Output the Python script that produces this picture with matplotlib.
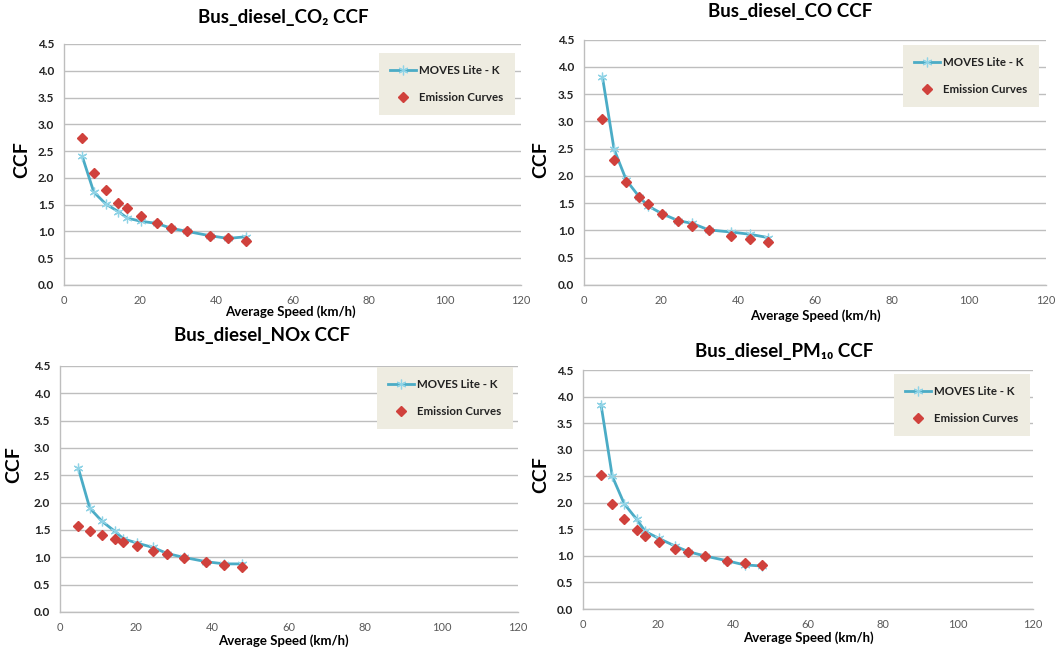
import matplotlib
matplotlib.use("Agg")
import matplotlib.pyplot as plt

W, H = 1064, 654

speeds = [4.8, 7.8, 11.0, 14.3, 16.6, 20.2, 24.4, 28.1, 32.4, 38.3, 43.1, 47.7]

co2_moves = [2.40, 1.74, 1.51, 1.37, 1.25, 1.19, 1.15, 1.06, 1.00, 0.92, 0.87, 0.90]
co2_curve = [2.74, 2.09, 1.78, 1.53, 1.43, 1.29, 1.15, 1.06, 1.00, 0.92, 0.87, 0.82]

co_moves = [3.81, 2.49, 1.92, 1.62, 1.45, 1.31, 1.18, 1.13, 1.01, 0.97, 0.93, 0.87]
co_curve = [3.05, 2.30, 1.89, 1.62, 1.48, 1.31, 1.18, 1.09, 1.00, 0.90, 0.84, 0.79]

nox_moves = [2.63, 1.90, 1.66, 1.48, 1.34, 1.26, 1.18, 1.07, 1.00, 0.92, 0.88, 0.88]
nox_curve = [1.58, 1.49, 1.41, 1.33, 1.28, 1.21, 1.12, 1.07, 0.99, 0.91, 0.86, 0.82]

pm_moves = [3.85, 2.50, 1.98, 1.69, 1.46, 1.33, 1.19, 1.08, 1.00, 0.91, 0.83, 0.81]
pm_curve = [2.53, 1.98, 1.69, 1.48, 1.38, 1.26, 1.13, 1.07, 1.00, 0.91, 0.86, 0.82]

titles = ["Bus_diesel_CO\u2082 CCF", "Bus_diesel_CO CCF", "Bus_diesel_NOx CCF", "Bus_diesel_PM\u2081\u2080 CCF"]
x_ticks = [0, 20, 40, 60, 80, 100, 120]
y_ticks = [0.0, 0.5, 1.0, 1.5, 2.0, 2.5, 3.0, 3.5, 4.0, 4.5]
xlabel = "Average Speed (km/h)"
ylabel = "CCF"
series_names = ["MOVES Lite - K", "Emission Curves"]

FAM = ["Lato", "DejaVu Sans"]
plt.rcParams['font.family'] = FAM

LINE_C = "#4BACC6"
MARK_C = "#8FD3E6"
RED = "#D0413C"
GRID = "#BEBEBE"

fig = plt.figure(figsize=(W / 100, H / 100), dpi=100)


def rect(l, r, t, b):
    return [l / W, 1 - b / H, (r - l) / W, (b - t) / H]


panels = [
    dict(box=(64, 521, 44, 285), title=(283, 17), ylab=(22, 160), xlab=(290, 312), leg=(447, 84),
         moves=co2_moves, curve=co2_curve),
    dict(box=(584, 1046, 39.5, 285), title=(790, 11), ylab=(541, 160), xlab=(815, 316), leg=(971, 76),
         moves=co_moves, curve=co_curve),
    dict(box=(60, 518, 366, 612), title=(262, 336), ylab=(14, 465), xlab=(283, 641), leg=(445, 398),
         moves=nox_moves, curve=nox_curve),
    dict(box=(583, 1033, 370, 609), title=(784, 352), ylab=(541, 475), xlab=(808, 638), leg=(962, 405),
         moves=pm_moves, curve=pm_curve),
]

for p, title in zip(panels, titles):
    ax = fig.add_axes(rect(*p["box"]))
    ax.set_xlim(0, 120)
    ax.set_ylim(0, 4.5)
    ax.set_xticks(x_ticks)
    ax.set_yticks(y_ticks)
    ax.set_yticklabels([f"{v:.1f}" for v in y_ticks], fontweight="bold", color="#222222", fontsize=8.5)
    ax.set_xticklabels([str(v) for v in x_ticks], color="#595959", fontsize=8)
    ax.tick_params(length=0, pad=7)
    ax.grid(axis="y", color=GRID, linewidth=1)
    ax.set_axisbelow(True)
    for s in ["top", "right"]:
        ax.spines[s].set_visible(False)
    for s in ["left", "bottom"]:
        ax.spines[s].set_color(GRID)
        ax.spines[s].set_linewidth(1)

    ax.plot(speeds, p["moves"], color=LINE_C, linewidth=2.0, marker=(6, 2, 0), markersize=7,
            markeredgecolor=MARK_C, markerfacecolor=MARK_C, markeredgewidth=0.9, label=series_names[0], zorder=3)
    ax.plot(speeds, p["curve"], linestyle="none", marker="D", markersize=4.6, color=RED,
            markeredgecolor=RED, label=series_names[1], zorder=4)

    tx, ty = p["title"]
    fig.text(tx / W, 1 - ty / H, title, ha="center", va="center", fontsize=13.5, fontweight="bold")
    yx, yy = p["ylab"]
    fig.text(yx / W, 1 - yy / H, ylabel, ha="center", va="center", fontsize=14, fontweight="bold",
             rotation=90)
    xx, xy = p["xlab"]
    fig.text(xx / W, 1 - xy / H, xlabel, ha="center", va="center", fontsize=9.5, fontweight="bold")

    lx, ly = p["leg"]
    leg = ax.legend(loc="center", bbox_to_anchor=(lx / W, 1 - ly / H), bbox_transform=fig.transFigure,
                    frameon=True, fancybox=False, facecolor="#EEECE1", edgecolor="none", framealpha=1,
                    prop=dict(family=FAM, weight="bold", size=8.3), labelspacing=1.4, handlelength=2.2,
                    borderpad=1.0, handletextpad=0.3)
    for t in leg.get_texts():
        t.set_color("#222222")

fig.savefig("out.png", dpi=100, facecolor="white")
